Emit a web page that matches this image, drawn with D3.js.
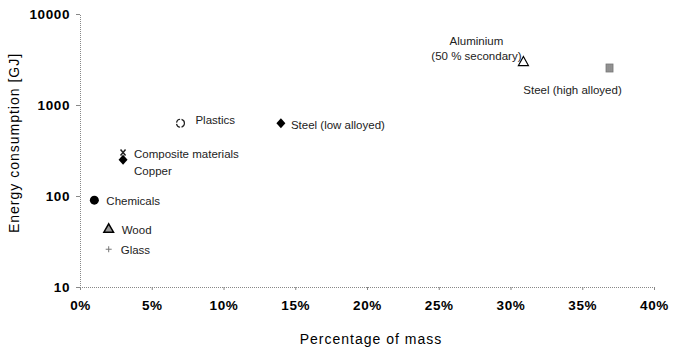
<!DOCTYPE html>
<html><head><meta charset="utf-8">
<script src="https://cdn.jsdelivr.net/npm/d3@7"></script>
<style>body{margin:0;background:#fff}text{font-family:Arial,"Liberation Sans",sans-serif}</style>
</head><body><svg id="c" width="677" height="351"></svg>
<script>
const materials = ["Chemicals","Wood","Glass","Composite materials","Copper","Plastics","Steel (low alloyed)","Aluminium","Steel (high alloyed)"];
const massShare = [0.01, 0.02, 0.02, 0.03, 0.03, 0.07, 0.14, 0.309, 0.369];
const energyGJ = [90, 43, 26, 300, 250, 630, 630, 3000, 2550];
const markers = ["dot","triangleGray","plus","cross","diamond","openCircle","diamond","openTriangle","hatchSquare"];
const xTicks = [0,0.05,0.10,0.15,0.20,0.25,0.30,0.35,0.40];
const yTicks = [10,100,1000,10000];
// label layout (dx, dy, anchor)
const labelLayout = [
  {dx:12,dy:5,a:"start"},{dx:13,dy:5,a:"start"},{dx:12,dy:5,a:"start"},
  {dx:11,dy:5,a:"start"},{dx:11,dy:15,a:"start"},{dx:15,dy:1,a:"start"},
  {dx:10,dy:6,a:"start"},{dx:-47,dy:-17,a:"middle"},{dx:-37,dy:26,a:"middle"}
];
const svg = d3.select("#c");
const x = d3.scaleLinear().domain([0,0.40]).range([80,654]);
const y = d3.scaleLog().domain([10,10000]).range([287,14]);

const defs = svg.append("defs");
const pat = defs.append("pattern").attr("id","hatch").attr("width",2).attr("height",2).attr("patternUnits","userSpaceOnUse");
pat.append("rect").attr("width",2).attr("height",2).attr("fill","#ccc");
pat.append("rect").attr("width",1).attr("height",2).attr("fill","#555");

const xa = svg.append("g").attr("transform","translate(0,287)")
  .call(d3.axisBottom(x).tickValues(xTicks).tickFormat(d3.format(".0%")).tickSize(3).tickPadding(8));
const ya = svg.append("g").attr("transform","translate(80,0)")
  .call(d3.axisLeft(y).tickValues(yTicks).tickFormat(d3.format("d")).tickSize(4).tickPadding(6));
[xa,ya].forEach(g=>{
  g.select(".domain").attr("stroke","#888").attr("stroke-dasharray","1,1");
  g.selectAll(".tick line").attr("stroke","#888");
  g.selectAll(".tick text").attr("font-size",13.5).attr("font-weight","bold").attr("fill","#000").attr("letter-spacing","0.6px");
});
xa.selectAll(".tick text").attr("dy","0.9em");

svg.append("text").attr("x",371).attr("y",344).attr("text-anchor","middle").attr("font-size",14).attr("letter-spacing","1px").text("Percentage of mass");
svg.append("text").attr("transform","translate(19,143) rotate(-90)").attr("text-anchor","middle").attr("font-size",14).attr("letter-spacing","1px").text("Energy consumption [GJ]");

const pts = svg.append("g");
materials.forEach((m,i)=>{
  const px = x(massShare[i]), py = y(energyGJ[i]);
  const g = pts.append("g").attr("transform",`translate(${px},${py})`);
  const t = markers[i];
  if(t==="dot") g.append("circle").attr("r",4.5).attr("fill","#000");
  else if(t==="triangleGray") g.append("path").attr("d",d3.symbol(d3.symbolTriangle,40)()).attr("fill","#999").attr("stroke","#000").attr("stroke-width",1.5);
  else if(t==="plus") g.append("path").attr("d","M-3,0H3M0,-3V3").attr("stroke","#777").attr("stroke-width",1);
  else if(t==="cross") g.append("path").attr("d","M-2.5,-3L2.5,3M2.5,-3L-2.5,3").attr("stroke","#222").attr("stroke-width",1.5);
  else if(t==="diamond") g.append("path").attr("d","M0,-5L4.5,0L0,5L-4.5,0Z").attr("fill","#000");
  else if(t==="openCircle") g.append("circle").attr("r",4).attr("fill","#fff").attr("stroke","#222").attr("stroke-width",1.2).attr("stroke-dasharray","5,1.5");
  else if(t==="openTriangle") g.append("path").attr("d","M0,-5L5,4L-5,4Z").attr("fill","#fff").attr("stroke","#000").attr("stroke-width",1.2);
  else if(t==="hatchSquare") g.append("rect").attr("x",-3.5).attr("y",-4).attr("width",7).attr("height",8).attr("fill","url(#hatch)").attr("stroke","#777").attr("stroke-width",0.8);
  const L = labelLayout[i];
  const txt = svg.append("text").attr("x",px+L.dx).attr("y",py+L.dy).attr("text-anchor",L.a).attr("font-size",11.5).attr("fill","#222");
  if(m==="Aluminium"){
    txt.append("tspan").attr("x",px+L.dx).text("Aluminium");
    txt.append("tspan").attr("x",px+L.dx).attr("dy",15).text("(50 % secondary)");
  } else txt.text(m);
});
</script></body></html>
